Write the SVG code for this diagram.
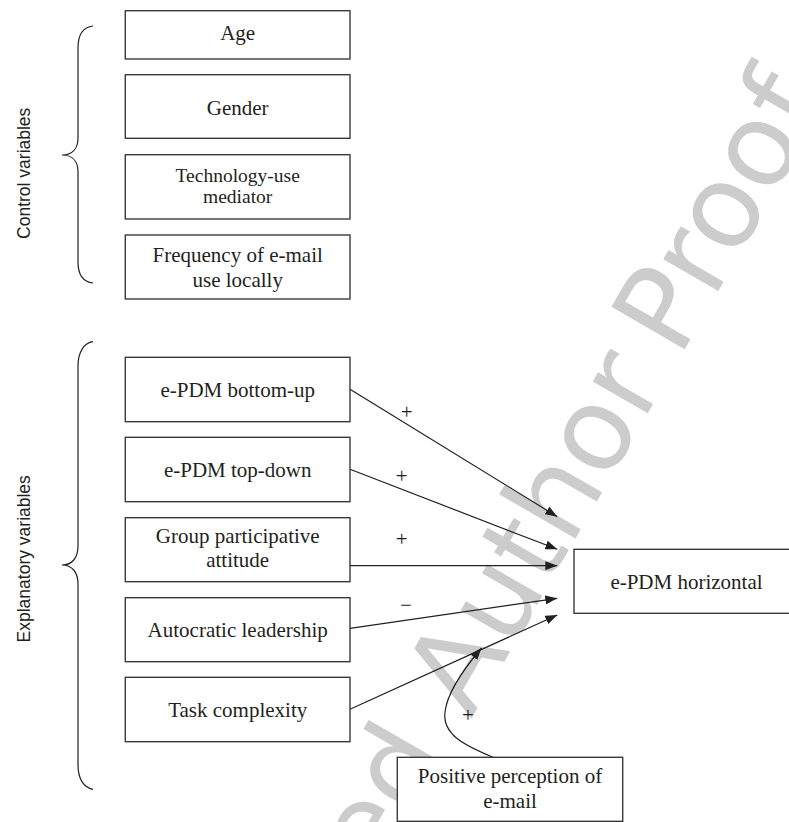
<svg xmlns="http://www.w3.org/2000/svg" width="789" height="822" viewBox="0 0 789 822">
<defs>
<style>
.box{fill:#ffffff;stroke:#3a3a3a;stroke-width:1.4}
.lbl{font-family:"Liberation Serif","Times New Roman",serif;font-size:21px;fill:#231f20;text-anchor:middle}
.side{font-family:"Liberation Sans",Arial,sans-serif;font-size:17.5px;fill:#231f20;text-anchor:middle}
.wire{fill:none;stroke:#231f20;stroke-width:1.2}
.brace{fill:none;stroke:#231f20;stroke-width:1.2}
.sign{font-family:"Liberation Serif","Times New Roman",serif;font-size:21px;fill:#231f20;text-anchor:middle}
.wm{font-family:"DejaVu Sans",sans-serif;font-size:116px;fill:#cccccc}
</style>
<marker id="arr" markerUnits="userSpaceOnUse" markerWidth="12" markerHeight="9" refX="12" refY="4.5" orient="auto">
<path d="M0,0 L12,4.5 L0,9 z" fill="#231f20"/>
</marker>
</defs>
<rect width="789" height="822" fill="#ffffff"/>
<g id="watermark">
<text class="wm" transform="translate(95.5,1369.6) rotate(-60)">Uncorrected</text>
<text class="wm" transform="translate(471,719.2) rotate(-60)">Author</text>
<text class="wm" transform="translate(679,358.9) rotate(-60)">Proof</text>
</g>
<g id="braces">
<path class="brace" d="M93,26 C84,27 78,34 78,48 L78,138 C78,149 72,155 62,155 C72,155 78,161 78,172 L78,262 C78,276 84,282 93,283"/>
<text class="side" transform="translate(29.5,173.3) rotate(-90)">Control variables</text>
<path class="brace" d="M93,341.7 C84,343 78,352 78,366 L78,546 C78,558 72,565 62,565 C72,565 78,572 78,584 L78,765 C78,779 84,788 93,789.3"/>
<text class="side" transform="translate(29.5,558.8) rotate(-90)">Explanatory variables</text>
</g>
<g id="connectors">
<line class="wire" x1="350" y1="389.3" x2="557.3" y2="516.7" marker-end="url(#arr)"/>
<line class="wire" x1="350" y1="469.3" x2="557.3" y2="549.3" marker-end="url(#arr)"/>
<line class="wire" x1="350" y1="565.7" x2="557.3" y2="565.7" marker-end="url(#arr)"/>
<line class="wire" x1="350" y1="628.3" x2="557.3" y2="598.3" marker-end="url(#arr)"/>
<line class="wire" x1="350" y1="709.3" x2="557.3" y2="615" marker-end="url(#arr)"/>
<path class="wire" d="M493,757.3 C466,746 442,735 445,712 C447,694 462,671 481.5,648" marker-end="url(#arr)"/>
<text class="sign" x="406.7" y="418.7">+</text>
<text class="sign" x="401.7" y="482.7">+</text>
<text class="sign" x="401.7" y="546.3">+</text>
<text class="sign" x="406" y="612">−</text>
<text class="sign" x="468" y="722">+</text>
</g>
<g id="age"><rect class="box" x="125.3" y="10.7" width="224.7" height="48.3"/><text class="lbl" x="237.7" y="40">Age</text></g>
<g id="gender"><rect class="box" x="125.3" y="74.7" width="224.7" height="63.6"/><text class="lbl" x="237.7" y="114.5">Gender</text></g>
<g id="tech"><rect class="box" x="125.3" y="154.7" width="224.7" height="64.3"/><text class="lbl" style="font-size:19.5px" x="237.7" y="181.7">Technology-use</text><text class="lbl" style="font-size:19.5px" x="237.7" y="203.3">mediator</text></g>
<g id="frequency"><rect class="box" x="125.3" y="235" width="224.7" height="64"/><text class="lbl" x="237.7" y="261.7">Frequency of e-mail</text><text class="lbl" x="237.7" y="286.7">use locally</text></g>
<g id="bottomup"><rect class="box" x="125.3" y="357.3" width="224.7" height="64.4"/><text class="lbl" x="237.7" y="396.7">e-PDM bottom-up</text></g>
<g id="topdown"><rect class="box" x="125.3" y="437.3" width="224.7" height="64.4"/><text class="lbl" x="237.7" y="476.7">e-PDM top-down</text></g>
<g id="group"><rect class="box" x="125.3" y="517.7" width="224.7" height="64"/><text class="lbl" x="237.7" y="542.7">Group participative</text><text class="lbl" x="237.7" y="567.3">attitude</text></g>
<g id="autocratic"><rect class="box" x="125.3" y="597.7" width="224.7" height="64"/><text class="lbl" x="237.7" y="636.7">Autocratic leadership</text></g>
<g id="task"><rect class="box" x="125.3" y="677.3" width="224.7" height="64.4"/><text class="lbl" x="237.7" y="716.7">Task complexity</text></g>
<g id="horizontal"><rect class="box" x="574" y="549.3" width="225" height="64"/><text class="lbl" x="686.5" y="589">e-PDM horizontal</text></g>
<g id="positive"><rect class="box" x="397.3" y="757.3" width="225.4" height="64"/><text class="lbl" x="510" y="783.3">Positive perception of</text><text class="lbl" x="510" y="808.3">e-mail</text></g>
</svg>
